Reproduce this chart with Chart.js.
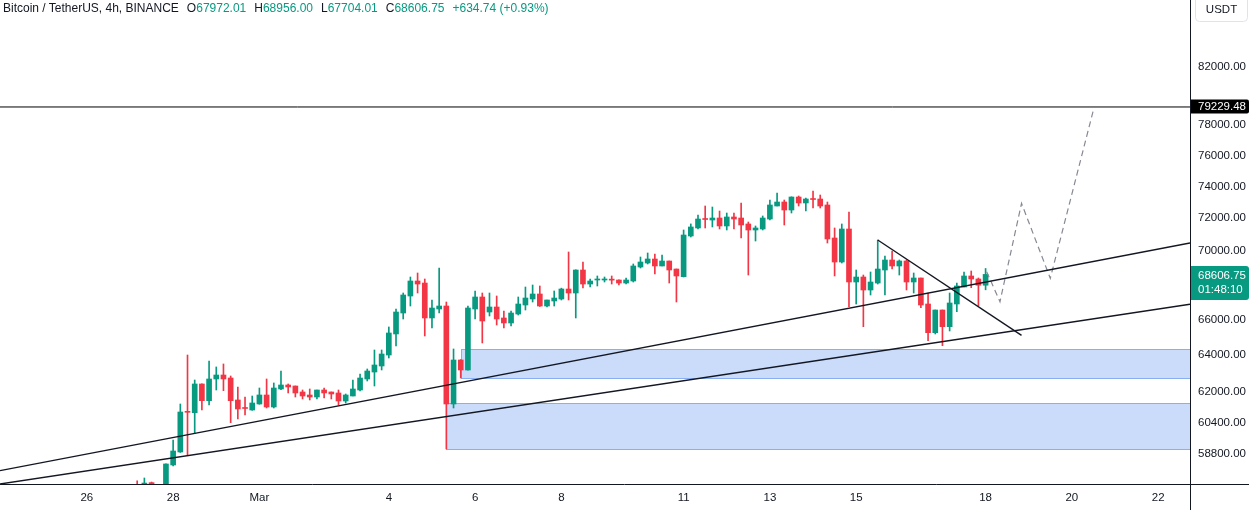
<!DOCTYPE html>
<html><head><meta charset="utf-8">
<script src="https://cdn.jsdelivr.net/npm/chart.js@4.4.1/dist/chart.umd.min.js"></script>
<style>
html,body{margin:0;padding:0;background:#fff;}
#wrap{position:relative;width:1249px;height:510px;overflow:hidden;}
#hdr{position:absolute;left:3px;top:1px;font:12px "Liberation Sans",Arial,sans-serif;color:#131722;white-space:nowrap;}
#hdr .v{color:#089981;}
#hdr .g{margin-left:8px;}
</style></head><body>
<div id="wrap"><canvas id="c" width="1249" height="510"></canvas><div id="hdr"></div></div>
<script>
// ---- data (4h candles, index 0 = first candle) ----
const opens = [57250,57150,57360,57100,56950,58238,58892,60952,60915,62438,61548,62707,62922,62760,61585,61163,61057,61373,61850,61215,62170,62384,62330,62010,61850,61743,62116,62010,61957,61532,61796,62116,62707,63084,63411,64013,65181,66367,67345,68219,68101,66084,66596,66768,61373,63739,63194,66596,67287,66424,66711,66084,65800,66310,66826,67172,67461,66768,67056,67172,67751,67519,68867,68042,68278,68278,68300,68278,68101,68219,69045,69282,69522,69105,69402,68926,68474,70910,71401,71954,71892,72016,71524,72079,72016,71647,71277,71339,71954,72763,73013,72513,73328,72953,73202,73202,72827,70789,69342,71339,68160,68454,67693,68101,68867,69462,69105,69402,68160,68396,66883,65253,66539,65591,66883,67868,68514,68337,67972.01];
const highs = [57450,57590,57390,57250,58300,59503,61373,64013,62653,62450,63684,63359,63522,62868,62277,61743,61796,62223,62707,62492,63139,62438,62330,62116,62170,62116,62223,62010,62116,61903,62653,62977,63249,64290,64290,65575,66596,67519,68454,68690,68337,67114,68985,66998,64346,63760,66768,67636,67519,67519,67345,66481,66481,67287,67868,67985,67927,67114,67636,67800,69942,68880,69342,68337,68514,68454,68514,68290,68396,69224,69642,69882,69822,69762,69402,68926,71277,71650,72203,72763,72700,72450,72326,72326,72953,71769,71524,72141,73139,73581,73139,73340,73391,73265,73707,73454,73013,71401,71647,72389,68867,68571,68749,70667,69702,70002,69462,69462,68690,68396,67519,66539,66539,67519,68101,68749,68808,68396,68956.00];
const lows = [56950,57000,56900,56700,56850,58188,58870,58740,59862,61057,61320,62116,62079,60395,60587,60795,61040,61360,61163,61163,62132,61957,61743,61638,61585,61638,61690,61638,61320,61426,61796,62062,62599,62330,63194,63849,64512,66027,66768,67519,65069,65518,66367,59044,61163,62760,63180,66027,64678,66197,65687,65518,65631,66253,66539,66998,66740,66711,66768,67114,67114,66084,67810,67868,67927,68160,68042,67985,68042,68160,68985,69224,68631,69105,68101,66998,68454,70850,71339,71401,71463,71339,71277,71339,70789,68571,70606,71277,71892,72763,71585,72326,72763,72450,72638,72638,70484,68514,69282,66730,66883,65591,67403,68042,67403,68926,68571,67693,67519,66672,64806,65181,64528,65349,66441,67868,67829,66768,67704.01];
const closes = [57150,57340,57100,56950,58288,58942,60952,60936,62438,61548,62707,62922,62707,61548,61110,61136,61426,61850,61215,62223,62384,62277,61957,61796,61743,62116,61957,61903,61532,61850,62170,62760,63139,63466,64068,65237,66424,67403,68219,68042,66084,66653,66768,61373,63739,63194,66653,67287,65913,66711,66027,65800,66367,66883,67229,67461,66768,67114,67229,67751,67519,68867,68042,68219,68290,68300,68270,68101,68278,69105,69342,69522,69105,69402,68867,68514,70971,71463,71954,71923,72016,71524,72079,71954,71585,71277,71401,72016,72827,73013,72513,73328,72953,73202,73170,72763,70728,69342,71339,68160,68454,67693,68160,68926,69462,69105,69402,68160,68396,66826,65253,66539,65591,66941,67927,68514,68337,67972.01,68606.75];
const tickIdx = [-7, 5, 17, 35, 47, 59, 76, 88, 100, 118, 130, 142];
const tickLabels = ['26','28','Mar','4','6','8','11','13','15','18','20','22'];
const priceTicks = [58800, 60400, 62000, 64000, 66000, 70000, 72000, 74000, 76000, 78000, 82000];
const upperTrend = [[-19.08, 57953], [146.43, 70485]];
const lowerTrend = [[-19.08, 57293], [146.43, 66865]];
const downTrend = [[103, 70667], [123.0, 65107]];
const resistance = 79229.48;
const projection = [[118.15, 68767], [120, 67015], [123, 72931], [127, 68376], [133, 79030]];
const zoneFrom = [45, 43];
const zoneTop = [64346, 61411];
const zoneBottom = [62760, 59044];
const countdown = '01:48:10';
const xMin = -19.08, xMax = 146.43, yMin = 57293, yMax = 86863;

const UP = '#089981', DOWN = '#F23645';
const n = closes.length;
const colors = closes.map((c,i)=> c >= opens[i] ? UP : DOWN);
const bodies = closes.map((c,i)=>({x:i, y:[opens[i], c]}));
const wicks = closes.map((c,i)=>({x:i, y:[lows[i], highs[i]]}));
const pts = a => a.map(p=>({x:p[0], y:p[1]}));

// header
const last = n-1, prevC = closes[n-2];
const chg = closes[last]-prevC;
const fmt = v => v.toFixed(2);
document.getElementById('hdr').innerHTML =
  'Bitcoin / TetherUS, 4h, BINANCE' +
  '<span class="g">O<span class="v">'+fmt(opens[last])+'</span></span>' +
  '<span class="g">H<span class="v">'+fmt(highs[last])+'</span></span>' +
  '<span class="g">L<span class="v">'+fmt(lows[last])+'</span></span>' +
  '<span class="g">C<span class="v">'+fmt(closes[last])+'</span></span>' +
  '<span class="g v">'+(chg>=0?'+':'')+fmt(chg)+' ('+(chg>=0?'+':'')+(chg/prevC*100).toFixed(2)+'%)</span>';

const FONT = '"Liberation Sans", Arial, sans-serif';
const overlay = {
  id:'overlay',
  beforeDatasetsDraw(chart){
    const {ctx, chartArea:a, scales:{x,y}} = chart;
    ctx.save();
    ctx.beginPath(); ctx.rect(a.left,a.top,a.right-a.left,a.bottom-a.top); ctx.clip();
    zoneFrom.forEach((f,k)=>{
      const x1 = Math.round(x.getPixelForValue(f))+0.5, x2 = Math.round(x.getPixelForValue(xMax))+0.5;
      const y1 = Math.round(y.getPixelForValue(zoneTop[k]))+0.5, y2 = Math.round(y.getPixelForValue(zoneBottom[k]))+0.5;
      ctx.fillStyle = '#cadcfa';
      ctx.fillRect(x1,y1,x2-x1,y2-y1);
      ctx.strokeStyle = '#8aaef2'; ctx.lineWidth = 1;
      ctx.strokeRect(x1,y1,x2-x1,y2-y1);
    });
    ctx.restore();
  },
  afterDraw(chart){
    const {ctx, chartArea:a, scales:{y}} = chart;
    const W = chart.width, H = chart.height;
    ctx.save();
    ctx.strokeStyle = '#131722'; ctx.lineWidth = 1;
    ctx.beginPath();
    ctx.moveTo(0, Math.round(a.bottom)+0.5); ctx.lineTo(W, Math.round(a.bottom)+0.5);
    ctx.moveTo(Math.round(a.right)+0.5, 0); ctx.lineTo(Math.round(a.right)+0.5, H);
    ctx.stroke();
    // resistance label
    const ry = y.getPixelForValue(resistance);
    ctx.fillStyle = '#000';
    ctx.beginPath(); ctx.roundRect(a.right+1, ry-7.5, W-a.right-1, 14, [0,2,2,0]); ctx.fill();
    ctx.fillStyle = '#fff'; ctx.font = '11.5px '+FONT; ctx.textBaseline='middle'; ctx.textAlign='left';
    ctx.fillText(fmt(resistance), a.right+8, ry);
    // last price label
    const py = y.getPixelForValue(closes[last]);
    ctx.fillStyle = UP;
    ctx.beginPath(); ctx.roundRect(a.right+1, py-8.5, W-a.right-1, 34, [0,3,3,0]); ctx.fill();
    ctx.fillStyle = '#fff';
    ctx.fillText(fmt(closes[last]), a.right+8, py+1.5);
    ctx.fillText(countdown, a.right+8, py+15.5);
    // USDT box
    ctx.strokeStyle = '#e0e3eb'; ctx.fillStyle='#fff';
    ctx.beginPath(); ctx.roundRect(a.right+5.5, -4.5, 52, 26, 4); ctx.fill(); ctx.stroke();
    ctx.fillStyle = '#131722'; ctx.textAlign='center';
    ctx.fillText('USDT', a.right+31.5, 9.5);
    ctx.restore();
  }
};

new Chart(document.getElementById('c'), {
  data: {
    datasets: [
      {type:'line', data:pts(upperTrend), borderColor:'#131722', borderWidth:1.4, pointRadius:0, order:0},
      {type:'line', data:pts(lowerTrend), borderColor:'#131722', borderWidth:1.4, pointRadius:0, order:0},
      {type:'line', data:pts(downTrend), borderColor:'#131722', borderWidth:1.4, pointRadius:0, order:0},
      {type:'line', data:[{x:xMin,y:resistance},{x:xMax,y:resistance}], borderColor:'#000', borderWidth:1, pointRadius:0, order:0},
      {type:'line', data:pts(projection), borderColor:'#858993', borderWidth:1.2, borderDash:[6,4], pointRadius:0, order:0},
      {type:'bar', data:bodies, backgroundColor:colors, barThickness:5, minBarLength:1, grouped:false, borderWidth:0, order:1},
      {type:'bar', data:wicks, backgroundColor:colors, barThickness:1, grouped:false, borderWidth:0, order:2}
    ]
  },
  options: {
    responsive:false, devicePixelRatio:1, animation:false,
    layout:{padding:0},
    plugins:{legend:{display:false}, tooltip:{enabled:false}},
    scales:{
      x:{type:'linear', min:xMin, max:xMax, offset:false,
         grid:{display:false, drawTicks:false}, border:{display:false},
         afterFit(s){ s.height = 26; s.paddingLeft = 0; s.paddingRight = 0; },
         afterBuildTicks(s){ s.ticks = tickIdx.map(v=>({value:v})); },
         ticks:{autoSkip:false, maxRotation:0, padding:7, color:'#131722', font:{family:FONT, size:11.5},
                callback:(v)=>{ const k = tickIdx.indexOf(v); return k>=0 ? tickLabels[k] : ''; }}},
      y:{type:'logarithmic', position:'right', min:yMin, max:yMax,
         grid:{display:false, drawTicks:false}, border:{display:false},
         afterFit(s){ s.width = 59; s.paddingTop = 0; s.paddingBottom = 0; },
         afterBuildTicks(s){ s.ticks = priceTicks.map(v=>({value:v})); },
         ticks:{padding:8, color:'#131722', font:{family:FONT, size:11.5},
                callback:(v)=> Number(v).toFixed(2)}}
    }
  },
  plugins:[overlay]
});
</script>
</body></html>
